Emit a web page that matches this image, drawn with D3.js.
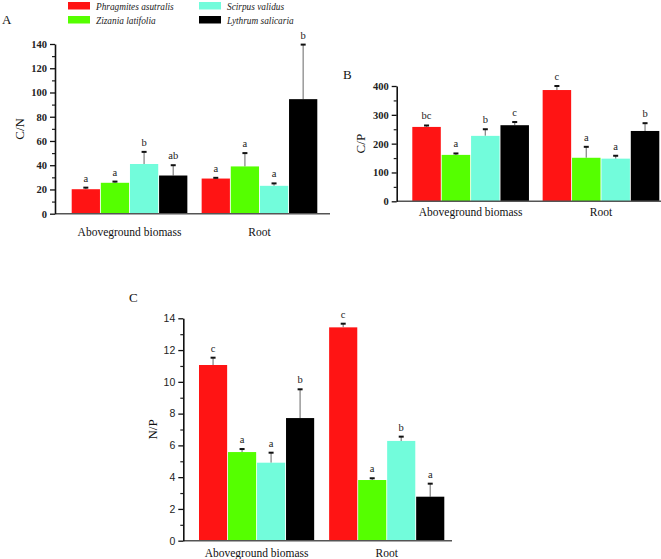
<!DOCTYPE html>
<html>
<head>
<meta charset="utf-8">
<script src="https://cdn.jsdelivr.net/npm/d3@7"></script>
<style>
  html, body { margin: 0; padding: 0; background: #fff; }
  svg { display: block; }
  .serif { font-family: "Liberation Serif", "Times New Roman", Times, "DejaVu Serif", serif; }
  .sans { font-family: "Liberation Sans", Arial, Helvetica, sans-serif; }
</style>
</head>
<body>
<svg id="chart" width="661" height="559"></svg>
<script>
// ---- data ----
const groups = ["Aboveground biomass", "Root"];
const species = ["Phragmites asutralis", "Zizania latifolia", "Scirpus validus", "Lythrum salicaria"];
const speciesColors = ["#ff1414", "#55ff00", "#72fcdb", "#000000"];

// C/N (panel A)
const cnMeans  = [[20.2, 25.5, 41.0, 31.5], [29.0, 39.0, 23.0, 94.5]];
const cnErrors = [[1.3, 1.0, 10.0, 8.5], [0.6, 11.0, 2.0, 45.0]];
const cnLetters = [["a", "a", "b", "ab"], ["a", "a", "a", "b"]];
const cnTicks = [0, 20, 40, 60, 80, 100, 120, 140];

// C/P (panel B)
const cpMeans  = [[258, 161, 227, 264], [386, 151, 148, 244]];
const cpErrors = [[5, 5, 23, 11], [14, 38, 10, 27]];
const cpLetters = [["bc", "a", "b", "c"], ["c", "a", "a", "b"]];
const cpTicks = [0, 100, 200, 300, 400];

// N/P (panel C)
const npMeans  = [[11.06, 5.58, 4.91, 7.72], [13.43, 3.82, 6.28, 2.77]];
const npErrors = [[0.46, 0.19, 0.63, 1.81], [0.23, 0.11, 0.27, 0.82]];
const npLetters = [["c", "a", "a", "b"], ["c", "a", "b", "a"]];
const npTicks = [0, 2, 4, 6, 8, 10, 12, 14];

const svg = d3.select("#chart");

function drawPanel(opt) {
  const g = svg.append("g");
  const y = d3.scaleLinear().domain(opt.domain).range([opt.y0, opt.y1]);
  const x0 = d3.scaleBand().domain(groups).range([opt.barX0, opt.barX1]).paddingInner(opt.groupPad).paddingOuter(0);
  const x1 = d3.scaleBand().domain(species).range([0, x0.bandwidth()]).paddingInner(0.03);

  groups.forEach((grp, gi) => {
    const gg = g.append("g").attr("transform", `translate(${x0(grp)},0)`);
    species.forEach((sp, si) => {
      const v = opt.means[gi][si], e = opt.errors[gi][si];
      const bx = x1(sp), bw = x1.bandwidth(), cx = bx + bw / 2;
      gg.append("line").attr("x1", cx).attr("x2", cx)
        .attr("y1", y(v)).attr("y2", y(v + e))
        .attr("stroke", "#8a8a8a").attr("stroke-width", 1.3);
      gg.append("rect").attr("x", bx).attr("y", y(v))
        .attr("width", bw).attr("height", y(0) - y(v))
        .attr("fill", speciesColors[si]);
      gg.append("rect").attr("x", cx - 2.5).attr("y", y(v + e) - 1)
        .attr("width", 5).attr("height", 2).attr("fill", "#111");
      gg.append("text").attr("class", "serif").attr("x", cx).attr("y", y(v + e) - 6)
        .attr("text-anchor", "middle")
        .attr("font-size", 10.5).attr("fill", "#222").text(opt.letters[gi][si]);
    });
  });

  g.append("line").attr("x1", opt.axisX).attr("x2", opt.baseEnd)
    .attr("y1", y(0)).attr("y2", y(0)).attr("stroke", "#555").attr("stroke-width", 1.5);

  const minor = [];
  for (let i = 0; i < opt.ticks.length - 1; i++) minor.push((opt.ticks[i] + opt.ticks[i + 1]) / 2);
  g.append("g").attr("transform", `translate(${opt.axisX},0)`)
    .call(d3.axisLeft(y).tickValues(minor).tickSize(3).tickFormat(""))
    .call(a => a.select(".domain").remove())
    .call(a => a.selectAll("line").attr("stroke", "#222").attr("stroke-width", 1.2));
  const ax = g.append("g").attr("transform", `translate(${opt.axisX},0)`)
    .call(d3.axisLeft(y).tickValues(opt.ticks).tickSize(5).tickPadding(3).tickSizeOuter(0));
  ax.attr("font-family", null);
  ax.select(".domain").attr("stroke", "#111").attr("stroke-width", 1.6);
  ax.selectAll("line").attr("stroke", "#111").attr("stroke-width", 1.3);
  ax.selectAll("text").attr("class", opt.tickClass).attr("font-size", opt.tickSize)
    .attr("font-weight", opt.tickWeight).attr("fill", "#222");

  g.append("text").attr("class", "serif")
    .attr("transform", `translate(${opt.ylabX},${(y(opt.domain[0]) + y(opt.domain[1])) / 2}) rotate(-90)`)
    .attr("text-anchor", "middle").attr("dy", "0.35em")
    .attr("font-size", 13).attr("fill", "#111").text(opt.ylabel);

  groups.forEach(grp => {
    g.append("text").attr("class", "serif").attr("x", x0(grp) + x0.bandwidth() / 2).attr("y", opt.xlabY)
      .attr("text-anchor", "middle").attr("font-size", 11.5)
      .attr("fill", "#111").text(grp);
  });

  g.append("text").attr("class", "serif").attr("x", opt.tagX).attr("y", opt.tagY)
    .attr("font-size", 13).attr("fill", "#111").text(opt.tag);
}

drawPanel({
  means: cnMeans, errors: cnErrors, letters: cnLetters, ticks: cnTicks,
  domain: [0, 140], y0: 213.7, y1: 44, axisX: 55, baseEnd: 330,
  barX0: 71.7, barX1: 317.3, groupPad: 0.11,
  tickClass: "serif", tickSize: 10.5, tickWeight: "bold",
  ylabel: "C/N", ylabX: 19, xlabY: 236, tag: "A", tagX: 2, tagY: 24
});

drawPanel({
  means: cpMeans, errors: cpErrors, letters: cpLetters, ticks: cpTicks,
  domain: [0, 400], y0: 201.3, y1: 86, axisX: 396.7, baseEnd: 661,
  barX0: 412.3, barX1: 659.3, groupPad: 0.105,
  tickClass: "serif", tickSize: 10.5, tickWeight: "bold",
  ylabel: "C/P", ylabX: 360, xlabY: 216, tag: "B", tagX: 343, tagY: 79
});

drawPanel({
  means: npMeans, errors: npErrors, letters: npLetters, ticks: npTicks,
  domain: [0, 14], y0: 540.7, y1: 318.3, axisX: 183.3, baseEnd: 452,
  barX0: 199, barX1: 444.3, groupPad: 0.115,
  tickClass: "sans", tickSize: 10.5, tickWeight: "normal",
  ylabel: "N/P", ylabX: 152, xlabY: 557, tag: "C", tagX: 129, tagY: 302
});

const legend = svg.append("g");
const legPos = [[68, 2], [68, 16], [199, 2], [199, 16]];
species.forEach((sp, i) => {
  const [lx, ly] = legPos[i];
  legend.append("rect").attr("x", lx).attr("y", ly).attr("width", 22).attr("height", 7.5)
    .attr("fill", speciesColors[i]);
  legend.append("text").attr("class", "serif").attr("x", lx + 28).attr("y", ly + 7.5)
    .attr("font-style", "italic").attr("font-size", 9.3)
    .attr("fill", "#222").text(sp);
});
</script>
</body>
</html>
